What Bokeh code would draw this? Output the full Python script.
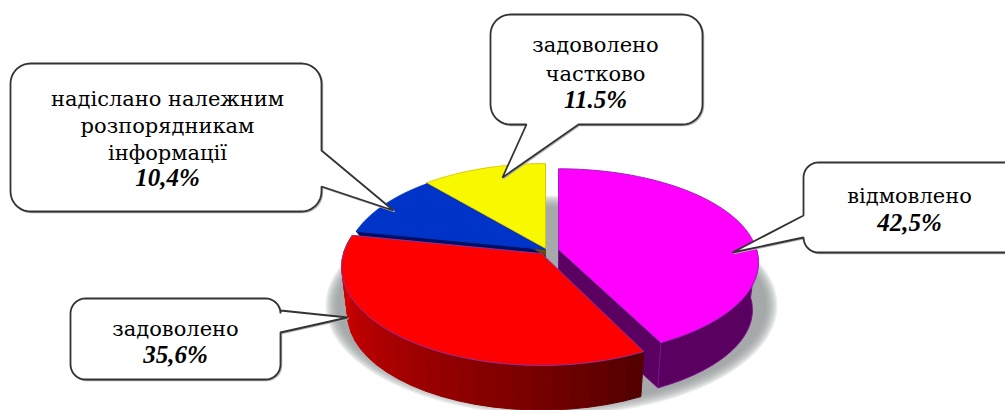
import numpy as np
from bokeh.plotting import figure
from bokeh.embed import file_html
from bokeh.resources import INLINE
from bokeh.models import Range1d
from bokeh.core.properties import value

# ---- data ----
categories = ["відмовлено", "задоволено", "надіслано належним розпорядникам інформації", "задоволено частково"]
values = [42.5, 35.6, 10.4, 11.5]
percent_labels = ["42,5%", "35,6%", "10,4%", "11.5%"]
label_lines = [["відмовлено"], ["задоволено"],
               ["надіслано належним", "розпорядникам", "інформації"],
               ["задоволено", "частково"]]
face_colors = ["#ff00ff", "#ff0000", "#0033c8", "#f8f800"]
side_colors = ["#5a0060", "#a00000", "#001060", "#6b4a10"]
edge_colors = ["#a020c0", "#8a30a0", "#0033c8", "#d8c800"]

# ---- geometry (screen pixels) ----
W, H = 1005, 410
RX, RY, PERSP = 198.0, 96.6, 0.137
DEPTH, BOTTOM_SCALE = 48.0, 0.97
apex = [(558, 249), (541, 253), (545, 249), (545, 248)]
y_scale = [0.95, 1.0, 1.0, 1.0]

p = figure(width=W, height=H, x_range=Range1d(0, W), y_range=Range1d(H, 0),
           output_backend="svg", toolbar_location=None, min_border=0,
           background_fill_color="white", border_fill_color="white")
p.axis.visible = False
p.grid.visible = False
p.outline_line_color = None


def rim(theta, i, bottom=False):
    ax, ay = apex[i]
    u, v = np.sin(theta), np.cos(theta)
    w = 1 + PERSP * v
    x, y = RX * u / w, -RY * y_scale[i] * v / w
    if bottom:
        return ax + BOTTOM_SCALE * x, ay + DEPTH + BOTTOM_SCALE * y
    return ax + x, ay + y


# shadow under the pie
for k in range(8):
    p.ellipse(x=[551], y=[305], width=[2 * (226 - 1.6 * k)], height=[2 * (110 - 1.6 * k)],
              fill_color="#8f9498", fill_alpha=0.18, line_color=None)

fracs = np.array(values) / sum(values)
edges = np.concatenate([[0], np.cumsum(fracs)]) * 2 * np.pi


def slice_side(i, n=90):
    t = np.linspace(max(edges[i], np.pi / 2), min(edges[i + 1], 3 * np.pi / 2), n)
    tx, ty = rim(t, i)
    bx, by = rim(t[::-1], i, True)
    return list(tx) + list(bx), list(ty) + list(by)


def slice_face(i, n=120):
    t = np.linspace(edges[i], edges[i + 1], n)
    ax, ay = apex[i]
    x, y = rim(t, i)
    return [ax] + list(x), [ay] + list(y)


def cut_face(i, theta):
    ax, ay = apex[i]
    tx, ty = rim(theta, i)
    bx, by = rim(theta, i, True)
    return [ax, tx, bx, ax], [ay, ty, by, ay + DEPTH]


# thin side bands of the back slices (blue and yellow)
for i in (2, 3):
    ax, ay = apex[i]
    xs, ys = cut_face(i, edges[i])
    ys = [ay, ys[1], ys[1] + 7, ay + 7]
    p.patch(xs, ys, fill_color=side_colors[i], line_color=side_colors[i])
for i in (3, 2):
    x, y = slice_face(i)
    p.patch(x, y, fill_color=face_colors[i], line_color=edge_colors[i], line_width=1)

# magenta slice: cut face, outer wall, top
x, y = cut_face(0, edges[1])
p.patch(x, y, fill_color=side_colors[0], line_color="#7a1090", line_width=1)
x, y = slice_side(0)
p.patch(x, y, fill_color=side_colors[0], line_color="#7a1090", line_width=1)
x, y = slice_face(0)
p.patch(x, y, fill_color=face_colors[0], line_color=edge_colors[0], line_width=1)

# red slice: shaded wall strips, then top
n_strips = 26
ts = np.linspace(edges[1], edges[2], n_strips + 1)
dark, light = np.array([84, 0, 0]), np.array([228, 0, 0])
for k in range(n_strips):
    t = np.array([ts[k], ts[k + 1]])
    tx, ty = rim(t, 1)
    bx, by = rim(t[::-1], 1, True)
    c = dark + (light - dark) * (k / (n_strips - 1)) ** 0.9
    col = "#%02x%02x%02x" % tuple(int(v) for v in c)
    p.patch(list(tx) + list(bx), list(ty) + list(by), fill_color=col, line_color=col, line_width=1)
x, y = slice_face(1)
p.patch(x, y, fill_color=face_colors[1], line_color=edge_colors[1], line_width=1)


# ---- callouts ----
def arc(cx, cy, r, a0, a1):
    a = np.radians(np.linspace(a0, a1, 10))
    return list(cx + r * np.cos(a)), list(cy + r * np.sin(a))


def callout(x0, y0, x1, y1, r, side, p1, tip, p2):
    xs, ys = [], []

    def add(px, py):
        xs.extend(px)
        ys.extend(py)

    a, b = arc(x0 + r, y0 + r, r, 180, 270); add(a, b)
    a, b = arc(x1 - r, y0 + r, r, 270, 360); add(a, b)
    if side == "right":
        add([x1, tip[0], x1], [p1, tip[1], p2])
    a, b = arc(x1 - r, y1 - r, r, 0, 90); add(a, b)
    if side == "bottom":
        add([p2, tip[0], p1], [y1, tip[1], y1])
    a, b = arc(x0 + r, y1 - r, r, 90, 180); add(a, b)
    if side == "left":
        add([x0, tip[0], x0], [p2, tip[1], p1])
    sx = [v + 1 for v in xs]
    sy = [v + 1 for v in ys]
    p.patch(sx, sy, fill_color=None, line_color="#b0b0b0", line_width=1.5)
    p.patch(xs, ys, fill_color="white", line_color="#333333", line_width=1.8)


callout(10, 63, 321, 211, 20, "right", 150, (393, 210), 186)
callout(490, 14, 702, 124, 20, "bottom", 526, (502, 177), 578)
callout(70, 298, 280, 379, 15, "right", 310, (347, 317), 332)
callout(803, 162, 1040, 252, 15, "left", 215, (732, 252), 237)

# ---- texts ----
text_pos = {0: (909, [195], 222), 1: (175, [328], 354),
            2: (167, [98, 125, 152], 177), 3: (595, [44, 73], 99)}
TEXT_FONT = value("DejaVu Serif")
PCT_FONT = value("Liberation Serif")
for i, lines in enumerate(label_lines):
    cx, ly, py = text_pos[i]
    p.text(x=[cx] * len(lines), y=ly, text=lines, text_font=TEXT_FONT, text_font_size="21px",
           text_color="#000000", text_align="center", text_baseline="middle")
    p.text(x=[cx], y=[py], text=[percent_labels[i]], text_font=PCT_FONT, text_font_size="25px",
           text_font_style="bold italic", text_color="#000000", text_align="center", text_baseline="middle")

open("out.html", "w").write(file_html(p, INLINE))
